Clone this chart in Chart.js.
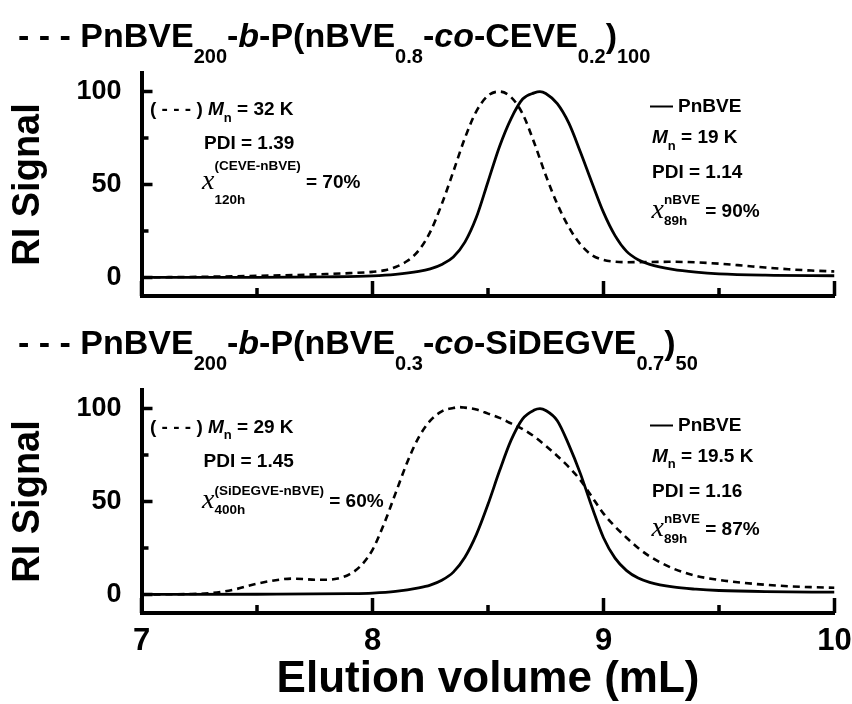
<!DOCTYPE html>
<html>
<head>
<meta charset="utf-8">
<script src="https://cdn.jsdelivr.net/npm/chart.js@4.4.1/dist/chart.umd.min.js"></script>
<style>
  html, body { margin: 0; padding: 0; background: #fff; }
  #wrap { position: relative; width: 852px; height: 704px; }
  #wrap canvas { position: absolute; left: 0; }
</style>
</head>
<body>
<div id="wrap">
  <canvas id="topChart" width="852" height="330" style="top:0"></canvas>
  <canvas id="botChart" width="852" height="374" style="top:330px"></canvas>
</div>
<script>
// --- DATA ---
const xTicks = [7, 8, 9, 10];
const xMinorTicks = [7.5, 8.5, 9.5];
const yTicks = [0, 50, 100];
const yMinorTicks = [25, 75];

// top panel: dashed = PnBVE200-b-P(nBVE0.8-co-CEVE0.2)100, solid = PnBVE
const topCopolyVol = [7.00, 7.30, 7.60, 7.80, 7.90, 8.00, 8.05, 8.10, 8.15, 8.20, 8.25, 8.30, 8.35, 8.40, 8.45, 8.50, 8.55, 8.60, 8.65, 8.70, 8.75, 8.80, 8.85, 8.90, 8.95, 9.00, 9.05, 9.10, 9.20, 9.30, 9.40, 9.50, 9.60, 9.70, 9.80, 9.90, 10.00];
const topCopolySig = [0, 0.4, 1.1, 1.8, 2.3, 3.0, 3.8, 5.6, 8.8, 14.5, 24.5, 39.5, 57.0, 75.0, 89.5, 97.8, 100, 97.0, 88.0, 72.5, 55.0, 39.5, 27.0, 17.8, 12.0, 9.4, 8.5, 8.2, 8.3, 8.4, 8.1, 7.4, 6.4, 5.3, 4.4, 3.7, 3.2];
const topHomoVol = [7.00, 7.50, 7.80, 8.00, 8.10, 8.20, 8.25, 8.30, 8.35, 8.40, 8.45, 8.50, 8.55, 8.60, 8.65, 8.70, 8.725, 8.75, 8.80, 8.85, 8.90, 8.95, 9.00, 9.05, 9.10, 9.15, 9.20, 9.30, 9.40, 9.50, 9.70, 10.00];
const topHomoSig = [0, 0, 0.3, 0.8, 1.6, 3.2, 4.6, 7.0, 11.0, 19.0, 32.5, 51.5, 70.5, 85.5, 96.0, 99.3, 100, 99.0, 93.5, 83.0, 67.5, 51.0, 35.0, 22.5, 14.0, 9.5, 7.0, 4.3, 2.8, 1.9, 1.2, 0.9];

// bottom panel: dashed = PnBVE200-b-P(nBVE0.3-co-SiDEGVE0.7)50, solid = PnBVE
const botCopolyVol = [7.00, 7.20, 7.30, 7.40, 7.50, 7.60, 7.65, 7.70, 7.75, 7.80, 7.85, 7.90, 7.95, 8.00, 8.05, 8.10, 8.15, 8.20, 8.25, 8.30, 8.35, 8.375, 8.40, 8.45, 8.50, 8.55, 8.60, 8.65, 8.70, 8.75, 8.80, 8.85, 8.90, 8.95, 9.00, 9.05, 9.10, 9.15, 9.20, 9.30, 9.40, 9.50, 9.60, 9.70, 9.80, 9.90, 10.00];
const botCopolySig = [0, 0.2, 0.7, 2.6, 5.8, 8.0, 8.5, 8.3, 7.9, 7.9, 8.6, 10.8, 15.5, 24.0, 38.0, 54.5, 71.0, 84.5, 93.5, 98.5, 100.3, 100.8, 100.5, 99.5, 97.3, 95.0, 92.0, 89.0, 85.0, 80.0, 74.5, 68.5, 61.5, 52.5, 43.5, 36.5, 30.5, 25.0, 20.5, 14.0, 10.0, 7.8, 6.3, 5.2, 4.4, 3.9, 3.6];
const botHomoVol = [7.00, 7.50, 7.90, 8.00, 8.10, 8.20, 8.25, 8.30, 8.35, 8.40, 8.45, 8.50, 8.55, 8.60, 8.65, 8.70, 8.725, 8.75, 8.80, 8.85, 8.90, 8.95, 9.00, 9.05, 9.10, 9.15, 9.20, 9.30, 9.40, 9.50, 9.70, 10.00];
const botHomoSig = [0, 0.1, 0.4, 0.7, 1.6, 3.5, 5.0, 7.6, 12.0, 20.0, 32.3, 48.5, 66.5, 83.0, 94.5, 99.2, 100, 99.0, 93.5, 80.5, 65.0, 47.0, 30.5, 19.5, 12.8, 8.8, 6.5, 4.0, 2.8, 2.1, 1.5, 1.2];

// --- TEXT STYLES ---
const SANS = '"Liberation Sans", Arial, Helvetica, sans-serif';
const STYLES = {
    T:  { font: `bold 34px ${SANS}`, dy: 0 },
    Ti: { font: `italic bold 34px ${SANS}`, dy: 0 },
    Ts: { font: `bold 20px ${SANS}`, dy: 16 },
    N:  { font: `bold 19px ${SANS}`, dy: 0 },
    Ni: { font: `italic bold 19px ${SANS}`, dy: 0 },
    Ns: { font: `bold 13px ${SANS}`, dy: 6.5 },
    X:  { font: `italic 28px "Liberation Serif", "Times New Roman", serif`, dy: 1 }
};
const SCRIPT_FONT = `bold 13.5px ${SANS}`;
const R = (t, s) => ({ t: t, s: s });

function drawRuns(ctx, x, y, runs) {
    ctx.fillStyle = '#000';
    ctx.strokeStyle = '#000';
    ctx.textAlign = 'left';
    ctx.textBaseline = 'alphabetic';
    runs.forEach(r => {
        if (r.line) {
            ctx.lineWidth = 2;
            ctx.beginPath();
            ctx.moveTo(x, y - 5.5);
            ctx.lineTo(x + r.line, y - 5.5);
            ctx.stroke();
            x += r.line + r.gap;
            return;
        }
        if (r.sup !== undefined) {
            ctx.font = SCRIPT_FONT;
            ctx.fillText(r.sup, x, y + r.dsup);
            ctx.fillText(r.sub, x, y + r.dsub);
            x += Math.max(ctx.measureText(r.sup).width, ctx.measureText(r.sub).width);
            return;
        }
        const s = STYLES[r.s];
        ctx.font = s.font;
        ctx.fillText(r.t, x, y + s.dy);
        x += ctx.measureText(r.t).width;
    });
}

// --- PANEL TEXT ---
const topTitle = [R('- - - ', 'T'), R('PnBVE', 'T'), R('200', 'Ts'), R('-', 'T'), R('b', 'Ti'), R('-P(nBVE', 'T'), R('0.8', 'Ts'), R('-', 'T'), R('co', 'Ti'), R('-CEVE', 'T'), R('0.2', 'Ts'), R(')', 'T'), R('100', 'Ts')];
const botTitle = [R('- - - ', 'T'), R('PnBVE', 'T'), R('200', 'Ts'), R('-', 'T'), R('b', 'Ti'), R('-P(nBVE', 'T'), R('0.3', 'Ts'), R('-', 'T'), R('co', 'Ti'), R('-SiDEGVE', 'T'), R('0.7', 'Ts'), R(')', 'T'), R('50', 'Ts')];

const topNotes = [
    { dx: 8.5, dy: 42, runs: [R('( - - - ) ', 'N'), R('M', 'Ni'), R('n', 'Ns'), R(' = 32 K', 'N')] },
    { dx: 62.5, dy: 76.3, runs: [R('PDI = 1.39', 'N')] },
    { dx: 60.5, dy: 115.3, runs: [R('x', 'X'), { sup: '(CEVE-nBVE)', sub: '120h', dsup: -18, dsub: 16 }, R(' = 70%', 'N')] },
    { dx: 508.5, dy: 39, runs: [{ line: 23, gap: 5 }, R('PnBVE', 'N')] },
    { dx: 510.5, dy: 70.3, runs: [R('M', 'Ni'), R('n', 'Ns'), R(' = 19 K', 'N')] },
    { dx: 510.5, dy: 105.3, runs: [R('PDI = 1.14', 'N')] },
    { dx: 510, dy: 143.7, runs: [R('x', 'X'), { sup: 'nBVE', sub: '89h', dsup: -13, dsub: 8 }, R(' = 90%', 'N')] }
];
const botNotes = [
    { dx: 8.5, dy: 42.7, runs: [R('( - - - ) ', 'N'), R('M', 'Ni'), R('n', 'Ns'), R(' = 29 K', 'N')] },
    { dx: 62, dy: 76.7, runs: [R('PDI = 1.45', 'N')] },
    { dx: 60.5, dy: 116.7, runs: [R('x', 'X'), { sup: '(SiDEGVE-nBVE)', sub: '400h', dsup: -12, dsub: 7 }, R(' = 60%', 'N')] },
    { dx: 508.5, dy: 41, runs: [{ line: 23, gap: 5 }, R('PnBVE', 'N')] },
    { dx: 510.5, dy: 71.7, runs: [R('M', 'Ni'), R('n', 'Ns'), R(' = 19.5 K', 'N')] },
    { dx: 510.5, dy: 106.7, runs: [R('PDI = 1.16', 'N')] },
    { dx: 510, dy: 145, runs: [R('x', 'X'), { sup: 'nBVE', sub: '89h', dsup: -12, dsub: 8 }, R(' = 87%', 'N')] }
];

// --- PLUGINS ---
// inward tick marks, like the original plot
const tickMarks = {
    id: 'tickMarks',
    afterDatasetsDraw(chart) {
        const { ctx, chartArea, scales: { x, y } } = chart;
        ctx.save();
        ctx.strokeStyle = '#000';
        ctx.lineWidth = 3.5;
        ctx.beginPath();
        const xMark = (v, len) => { const p = x.getPixelForValue(v); ctx.moveTo(p, chartArea.bottom); ctx.lineTo(p, chartArea.bottom - len); };
        const yMark = (v, len) => { const p = y.getPixelForValue(v); ctx.moveTo(chartArea.left, p); ctx.lineTo(chartArea.left + len, p); };
        xTicks.forEach(v => xMark(v, 15));
        xMinorTicks.forEach(v => xMark(v, 8));
        yTicks.forEach(v => yMark(v, 11));
        yMinorTicks.forEach(v => yMark(v, 7));
        ctx.stroke();
        ctx.restore();
    }
};

function textPlugin(title, titleY, notes) {
    return {
        id: 'panelText',
        afterDraw(chart) {
            const { ctx, chartArea } = chart;
            ctx.save();
            drawRuns(ctx, 18, titleY, title);
            notes.forEach(n => drawRuns(ctx, chartArea.left + n.dx, chartArea.top + n.dy, n.runs));
            ctx.restore();
        }
    };
}

const toPoints = (vol, sig) => vol.map((v, i) => ({ x: v, y: sig[i] }));

function makeChart(id, copoly, homo, opt) {
    return new Chart(document.getElementById(id), {
        type: 'line',
        data: {
            datasets: [
                { label: 'copolymer', data: copoly, borderColor: '#000', borderWidth: 2.6, borderDash: [7, 5], pointRadius: 0, cubicInterpolationMode: 'monotone', fill: false },
                { label: 'PnBVE', data: homo, borderColor: '#000', borderWidth: 2.8, pointRadius: 0, cubicInterpolationMode: 'monotone', fill: false }
            ]
        },
        options: {
            responsive: false,
            animation: false,
            layout: { padding: { top: opt.top, right: 17.5, left: 0, bottom: 0 } },
            plugins: { legend: { display: false }, tooltip: { enabled: false } },
            scales: {
                x: {
                    type: 'linear', min: 7, max: 10,
                    afterBuildTicks: s => { s.ticks = xTicks.map(v => ({ value: v })); },
                    afterFit: s => { s.height = opt.xHeight; },
                    grid: { display: true, drawOnChartArea: false, drawTicks: true, tickLength: 10, tickColor: 'rgba(0,0,0,0)', color: 'rgba(0,0,0,0)' },
                    border: { display: true, color: '#000', width: 4 },
                    ticks: { display: opt.xLabels, padding: 0, color: '#000', font: { family: SANS, size: 31, weight: 'bold' } },
                    title: { display: opt.xLabels, text: 'Elution volume (mL)', color: '#000', padding: 0, font: { family: SANS, size: 44, weight: 'bold', lineHeight: 1.1 } }
                },
                y: {
                    min: -10, max: 110,
                    afterBuildTicks: s => { s.ticks = yTicks.map(v => ({ value: v })); },
                    afterFit: s => { s.width = 141.5; },
                    grid: { display: true, drawOnChartArea: false, drawTicks: true, tickLength: 20, tickColor: 'rgba(0,0,0,0)', color: 'rgba(0,0,0,0)' },
                    border: { display: true, color: '#000', width: 4 },
                    ticks: { padding: 0, color: '#000', font: { family: SANS, size: 27, weight: 'bold' } },
                    title: { display: true, text: 'RI Signal', color: '#000', padding: { top: 6, bottom: 0 }, font: { family: SANS, size: 38, weight: 'bold' } }
                }
            }
        },
        plugins: [tickMarks, textPlugin(opt.title, opt.titleY, opt.notes)]
    });
}

makeChart('topChart', toPoints(topCopolyVol, topCopolySig), toPoints(topHomoVol, topHomoSig),
    { top: 73, xHeight: 34, xLabels: false, title: topTitle, titleY: 46.7, notes: topNotes });
makeChart('botChart', toPoints(botCopolyVol, botCopolySig), toPoints(botHomoVol, botHomoSig),
    { top: 60, xHeight: 91, xLabels: true, title: botTitle, titleY: 24, notes: botNotes });
</script>
</body>
</html>
